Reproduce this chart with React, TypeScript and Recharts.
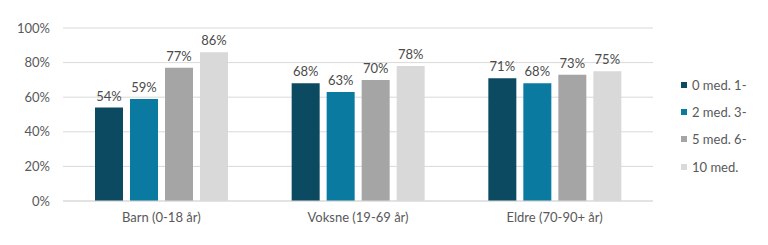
import { BarChart, Bar, XAxis, YAxis, CartesianGrid, LabelList } from 'recharts'

const categories = ['Barn (0-18 år)', 'Voksne (19-69 år)', 'Eldre (70-90+ år)']
const seriesNames = ['0 med. 1-', '2 med. 3-', '5 med. 6-', '10 med.']
const s0 = [0.54, 0.68, 0.71]
const s1 = [0.59, 0.63, 0.68]
const s2 = [0.77, 0.70, 0.73]
const s3 = [0.86, 0.78, 0.75]
const yTicks = [0, 0.2, 0.4, 0.6, 0.8, 1]

const colors = ['#0B4A60', '#0A7AA0', '#A5A5A5', '#D9D9D9']
const seriesValues = [s0, s1, s2, s3]

const data = categories.map((c, i) => {
  const row: Record<string, string | number> = { name: c }
  seriesNames.forEach((s, j) => { row[s] = seriesValues[j][i] })
  return row
})

const font = 'Lato, "Open Sans", sans-serif'
const pct = (v: number) => `${Math.round(v * 100)}%`

// legend drawn as plain html so it doesn't eat into the plot width
function LegendBox() {
  return (
    <div style={{ position: 'absolute', left: 681, top: 71, fontFamily: font, fontSize: 13, color: '#595959' }}>
      {seriesNames.map((s, j) => (
        <div key={s} style={{ height: 27.3, display: 'flex', alignItems: 'center' }}>
          <span style={{ width: 6, height: 6, background: colors[j], marginRight: 5, display: 'inline-block' }} />
          <span>{s}</span>
        </div>
      ))}
    </div>
  )
}

export default function App() {
  return (
    <div style={{ position: 'absolute', left: 0, top: 0, width: 768, height: 245, background: '#fff' }}>
      <BarChart
        width={768}
        height={245}
        data={data}
        margin={{ top: 28, right: 115, bottom: 14, left: 0 }}
        barSize={28}
        barGap={7}
      >
        <CartesianGrid vertical={false} stroke="#D9D9D9" />
        <XAxis
          dataKey="name"
          tick={{ fill: '#595959', fontSize: 13, fontFamily: font }}
          axisLine={{ stroke: '#D9D9D9' }}
          tickLine={false}
          height={30}
          tickMargin={6}
        />
        <YAxis
          domain={[0, 1]}
          ticks={yTicks}
          tickFormatter={pct}
          tick={{ fill: '#595959', fontSize: 13, fontFamily: font }}
          axisLine={false}
          tickLine={false}
          width={63}
          tickMargin={7}
        />
        {seriesNames.map((s, j) => (
          <Bar key={s} dataKey={s} fill={colors[j]} isAnimationActive={false}>
            <LabelList
              dataKey={s}
              position="top"
              offset={7}
              formatter={(v: number) => pct(v)}
              style={{ fill: '#4A4A4A', fontSize: 13, fontFamily: font }}
            />
          </Bar>
        ))}
      </BarChart>
      <LegendBox />
    </div>
  )
}
